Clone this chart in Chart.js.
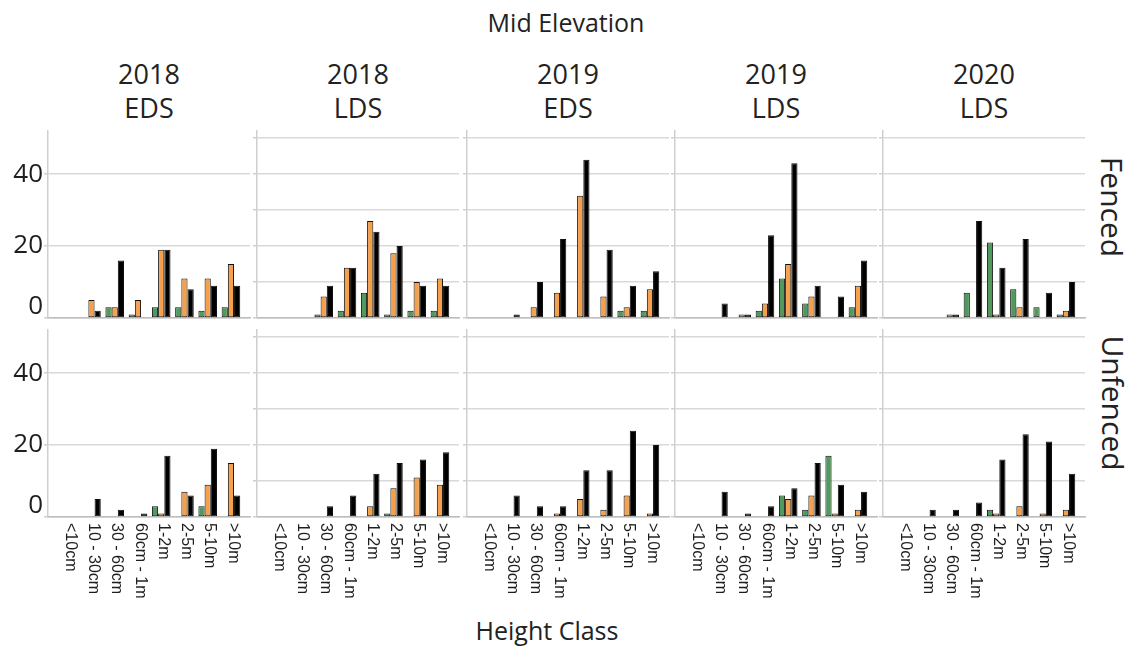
<!DOCTYPE html>
<html>
<head>
<meta charset="utf-8">
<script src="https://cdn.jsdelivr.net/npm/chart.js@4.4.1/dist/chart.umd.min.js"></script>
<style>
  html, body { margin: 0; padding: 0; background: #fff; }
  #wrap { position: relative; width: 1131px; height: 647px; overflow: hidden;
          font-family: "Open Sans", "Noto Sans", sans-serif; color: #222; }
  .txt { position: absolute; white-space: nowrap; line-height: 1; transform: translate(-50%, -50%); }
  .side { transform: translate(-50%, -50%) rotate(90deg); }
  canvas { position: absolute; }
</style>
</head>
<body>
<div id="wrap"></div>
<script>
// Height classes on the x axis of every panel
const heightClasses = ['<10cm', '10 - 30cm', '30 - 60cm', '60cm - 1m', '1-2m', '2-5m', '5-10m', '>10m'];
// Survey periods, one column each
const periodYears = ['2018', '2018', '2019', '2019', '2020'];
const periodSeasons = ['EDS', 'LDS', 'EDS', 'LDS', 'LDS'];
// Rows
const treatments = ['Fenced', 'Unfenced'];
// Labelled values on the y axis
const yTickLabels = [0, 20, 40];

// Counts per height class; one row per survey period (same order as above)
const greenFenced = [
  [0, 0, 3, 1, 3, 3, 2, 3],
  [0, 0, 1, 2, 7, 1, 2, 2],
  [0, 0, 0, 0, 0, 0, 2, 2],
  [0, 0, 0, 2, 11, 4, 0, 3],
  [0, 0, 0, 7, 21, 8, 3, 1]
];
const orangeFenced = [
  [0, 5, 3, 5, 19, 11, 11, 15],
  [0, 0, 6, 14, 27, 18, 10, 11],
  [0, 0, 3, 7, 34, 6, 3, 8],
  [0, 0, 1, 4, 15, 6, 0, 9],
  [0, 0, 1, 0, 1, 3, 0, 2]
];
const blackFenced = [
  [0, 2, 16, 0, 19, 8, 9, 9],
  [0, 0, 9, 14, 24, 20, 9, 9],
  [0, 1, 10, 22, 44, 19, 9, 13],
  [0, 4, 1, 23, 43, 9, 6, 16],
  [0, 0, 1, 27, 14, 22, 7, 10]
];
const greenUnfenced = [
  [0, 0, 0, 0, 3, 0, 3, 0],
  [0, 0, 0, 0, 0, 1, 0, 0],
  [0, 0, 0, 0, 0, 0, 0, 0],
  [0, 0, 0, 0, 6, 2, 17, 0],
  [0, 0, 0, 0, 2, 0, 0, 0]
];
const orangeUnfenced = [
  [0, 0, 0, 0, 1, 7, 9, 15],
  [0, 0, 0, 0, 3, 8, 11, 9],
  [0, 0, 0, 1, 5, 2, 6, 1],
  [0, 0, 0, 0, 5, 6, 1, 2],
  [0, 0, 0, 0, 1, 3, 1, 2]
];
const blackUnfenced = [
  [0, 5, 2, 1, 17, 6, 19, 6],
  [0, 0, 3, 6, 12, 15, 16, 18],
  [0, 6, 3, 3, 13, 13, 24, 20],
  [0, 7, 1, 3, 8, 15, 9, 7],
  [0, 2, 2, 4, 16, 23, 21, 12]
];

const seriesByRow = [
  [greenFenced, orangeFenced, blackFenced],
  [greenUnfenced, orangeUnfenced, blackUnfenced]
];
const seriesColors = ['#4f9a5c', '#f4a04c', '#000000'];

// Panel geometry
const panelLeft = [48, 257, 467, 675, 883];
const panelWidth = 202;
const rowCanvasTop = [125, 324];
const plotTopPad = 6;
const plotHeight = 187;
const rowBottomExtra = [4, 93];
const yMax = 52;

const wrap = document.getElementById('wrap');

function addText(text, x, y, size, cls) {
  const d = document.createElement('div');
  d.className = 'txt' + (cls ? ' ' + cls : '');
  d.textContent = text;
  d.style.left = x + 'px';
  d.style.top = y + 'px';
  d.style.fontSize = size + 'px';
  wrap.appendChild(d);
}

// Rotated height-class labels under the bottom row
const heightLabelPlugin = {
  id: 'heightLabels',
  afterDraw(chart, args, opts) {
    if (!opts.show) return;
    const xs = chart.scales.x;
    const ctx = chart.ctx;
    ctx.save();
    ctx.font = '16px "Liberation Sans", Arial, sans-serif';
    ctx.fillStyle = '#1e1e1e';
    ctx.textAlign = 'left';
    ctx.textBaseline = 'middle';
    heightClasses.forEach((lab, i) => {
      ctx.save();
      ctx.translate(xs.getPixelForValue(i) + 2, xs.top + 6);
      ctx.rotate(Math.PI / 2);
      ctx.fillText(lab, 0, 0);
      ctx.restore();
    });
    ctx.restore();
  }
};

function makePanel(r, c) {
  const leftW = c === 0 ? 48 : 6;
  const canvas = document.createElement('canvas');
  const w = leftW + panelWidth + 2;
  const h = plotTopPad + plotHeight + rowBottomExtra[r];
  canvas.width = w;
  canvas.height = h;
  canvas.style.width = w + 'px';
  canvas.style.height = h + 'px';
  canvas.style.left = (panelLeft[c] - leftW) + 'px';
  canvas.style.top = rowCanvasTop[r] + 'px';
  wrap.appendChild(canvas);

  const datasets = seriesByRow[r].map((series, s) => ({
    data: series[c].map((v, i) => ({ x: i, y: v })),
    backgroundColor: seriesColors[s],
    borderColor: '#111',
    borderWidth: 1,
    borderSkipped: false,
    categoryPercentage: 0.8,
    barPercentage: 1.0
  }));

  new Chart(canvas, {
    type: 'bar',
    data: { datasets },
    plugins: [heightLabelPlugin],
    options: {
      responsive: false,
      animation: false,
      devicePixelRatio: 1,
      layout: { padding: { top: plotTopPad, right: 2, left: 0, bottom: 0 } },
      plugins: {
        legend: { display: false },
        tooltip: { enabled: false },
        heightLabels: { show: r === 1 }
      },
      scales: {
        x: {
          type: 'linear',
          min: -0.87,
          max: 7.82,
          offset: false,
          afterBuildTicks: s => { s.ticks = heightClasses.map((_, i) => ({ value: i })); },
          afterFit: s => { s.height = rowBottomExtra[r]; s.paddingLeft = 0; s.paddingRight = 0; },
          ticks: { display: false },
          grid: { display: false },
          border: { display: true, color: '#bdbdbd', width: 1.5 }
        },
        y: {
          min: 0,
          max: yMax,
          afterBuildTicks: s => { s.ticks = [0, 10, 20, 30, 40, 50].map(v => ({ value: v })); },
          afterFit: s => { s.width = leftW; s.paddingTop = 0; s.paddingBottom = 0; },
          ticks: {
            display: c === 0,
            padding: 1,
            color: '#1e1e1e',
            font: { family: '"Open Sans", sans-serif', size: 26, lineHeight: 0.85 },
            callback: v => yTickLabels.includes(v) ? (v === 0 ? ['0', ''] : String(v)) : ''
          },
          grid: { color: '#d9d9d9', lineWidth: 1.5, drawTicks: true, tickLength: 4, tickColor: '#cfcfcf' },
          border: { display: true, color: '#cfcfcf', width: 1.5 }
        }
      }
    }
  });
}

// Titles
addText('Mid Elevation', 566, 22, 25);
periodYears.forEach((yr, c) => {
  const cx = panelLeft[c] + panelWidth / 2;
  addText(yr, cx, 73, 27);
  addText(periodSeasons[c], cx, 107, 27);
});
addText(treatments[0], 1112, 207, 30, 'side');
addText(treatments[1], 1113, 403, 30, 'side');
addText('Height Class', 547, 630, 25);

for (let r = 0; r < 2; r++) {
  for (let c = 0; c < 5; c++) makePanel(r, c);
}
</script>
</body>
</html>
